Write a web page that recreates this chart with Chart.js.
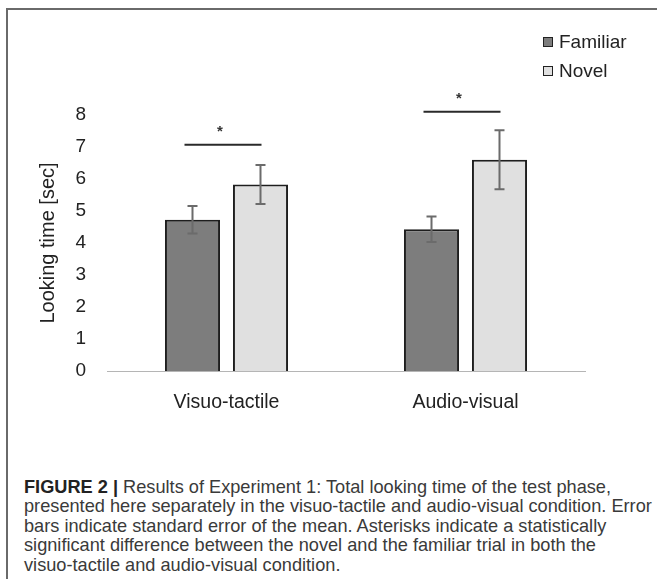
<!DOCTYPE html>
<html>
<head>
    <title>Looking time</title>
    <style>
        body {
            margin: 0;
            background: #fff;
            font-family: 'Liberation Sans', Arial, sans-serif;
        }
        .frame {
            position: absolute;
            left: 6px;
            top: 8px;
            width: 700px;
            height: 620px;
            border-left: 2px solid #6a6a6a;
            border-top: 2px solid #6a6a6a;
        }
        #chartBox {
            position: absolute;
            left: 0;
            top: 0;
        }
        .legend {
            position: absolute;
            left: 543px;
            font-size: 19px;
            color: #222;
            line-height: 22px;
        }
        .legend span.box {
            display: inline-block;
            width: 8px;
            height: 8px;
            border: 1.5px solid #222;
            margin-right: 6px;
            vertical-align: 1px;
        }
        .caption {
            position: absolute;
            left: 24px;
            top: 478px;
            font-size: 18.2px;
            line-height: 19.4px;
            color: #3a3a3a;
            white-space: nowrap;
        }
        .caption b {
            color: #222;
        }
    </style>
    <script src="https://cdn.jsdelivr.net/npm/chart.js"></script>
</head>
<body>
    <div class="frame"></div>
    <canvas id="chartBox" width="657" height="440"></canvas>
    <div class="legend" style="top:31px"><span class="box" style="background:#7d7d7d"></span>Familiar</div>
    <div class="legend" style="top:60px"><span class="box" style="background:#e0e0e0"></span>Novel</div>
    <div class="caption">
        <b>FIGURE 2 |</b> Results of Experiment 1: Total looking time of the test phase,<br>
        presented here separately in the visuo-tactile and audio-visual condition. Error<br>
        bars indicate standard error of the mean. Asterisks indicate a statistically<br>
        significant difference between the novel and the familiar trial in both the<br>
        visuo-tactile and audio-visual condition.
    </div>

    <script>
        const conditions = ['Visuo-tactile', 'Audio-visual'];
        const familiar = [4.73, 4.43];
        const novel = [5.83, 6.6];
        const familiarErr = [0.43, 0.40];
        const novelErr = [0.61, 0.92];
        const sigLine = [7.07, 8.1];
        const sigStar = [7.58, 8.6];
        const yTicks = [0, 1, 2, 3, 4, 5, 6, 7, 8];

        const errors = [familiarErr, novelErr];

        // error bars and significance marks
        const annotate = {
            id: 'annotate',
            afterDatasetsDraw(chart) {
                const ctx = chart.ctx;
                const y = chart.scales.y;
                chart.data.datasets.forEach((ds, i) => {
                    chart.getDatasetMeta(i).data.forEach((bar, j) => {
                        const top = y.getPixelForValue(ds.data[j] + errors[i][j]);
                        const bot = y.getPixelForValue(ds.data[j] - errors[i][j]);
                        ctx.save();
                        ctx.strokeStyle = '#6b6b6b';
                        ctx.lineWidth = 2;
                        ctx.beginPath();
                        ctx.moveTo(bar.x, top);
                        ctx.lineTo(bar.x, bot);
                        ctx.moveTo(bar.x - 5, top);
                        ctx.lineTo(bar.x + 5, top);
                        ctx.moveTo(bar.x - 5, bot);
                        ctx.lineTo(bar.x + 5, bot);
                        ctx.stroke();
                        ctx.restore();
                    });
                });
                const fam = chart.getDatasetMeta(0).data;
                const nov = chart.getDatasetMeta(1).data;
                sigLine.forEach((lv, j) => {
                    const x1 = fam[j].x - 8;
                    const x2 = nov[j].x + 1;
                    const ly = y.getPixelForValue(lv);
                    ctx.save();
                    ctx.strokeStyle = '#2a2a2a';
                    ctx.lineWidth = 2;
                    ctx.beginPath();
                    ctx.moveTo(x1, ly);
                    ctx.lineTo(x2, ly);
                    ctx.stroke();
                    ctx.fillStyle = '#333';
                    ctx.font = 'bold 15px "Liberation Sans"';
                    ctx.textAlign = 'center';
                    ctx.textBaseline = 'middle';
                    ctx.fillText('*', (x1 + x2) / 2 - 3, y.getPixelForValue(sigStar[j]) + 3);
                    ctx.restore();
                });
            }
        };

        const ctx = document.getElementById('chartBox').getContext('2d');
        const chart = new Chart(ctx, {
            type: 'bar',
            data: {
                labels: conditions,
                datasets: [{
                    label: 'Familiar',
                    data: familiar,
                    backgroundColor: '#7d7d7d',
                    borderColor: '#1e1e1e',
                    borderWidth: 2,
                    categoryPercentage: 0.569,
                    barPercentage: 0.81
                }, {
                    label: 'Novel',
                    data: novel,
                    backgroundColor: '#e0e0e0',
                    borderColor: '#1e1e1e',
                    borderWidth: 2,
                    categoryPercentage: 0.569,
                    barPercentage: 0.81
                }]
            },
            options: {
                responsive: false,
                animation: false,
                layout: {
                    padding: { left: 0, right: 72, top: 115, bottom: 19 }
                },
                plugins: {
                    legend: { display: false },
                    tooltip: { enabled: false }
                },
                scales: {
                    x: {
                        grid: { display: false, drawTicks: false },
                        border: { display: true, color: '#b5b5b5', width: 1, dash: [2, 2] },
                        ticks: {
                            padding: 20,
                            color: '#222',
                            font: { family: 'Liberation Sans', size: 19.5 }
                        },
                        afterFit(scale) { scale.height = 50; }
                    },
                    y: {
                        min: 0,
                        max: 8,
                        afterBuildTicks(scale) {
                            scale.ticks = yTicks.map(v => ({ value: v }));
                        },
                        grid: { display: false, drawTicks: false },
                        border: { display: false },
                        ticks: {
                            padding: 21,
                            color: '#222',
                            font: { family: 'Liberation Sans', size: 19 }
                        },
                        title: {
                            display: true,
                            text: 'Looking time [sec]',
                            color: '#222',
                            padding: { top: 36, bottom: 0 },
                            font: { family: 'Liberation Sans', size: 20 }
                        },
                        afterFit(scale) { scale.width = 107; }
                    }
                }
            },
            plugins: [annotate]
        });
    </script>
</body>
</html>
